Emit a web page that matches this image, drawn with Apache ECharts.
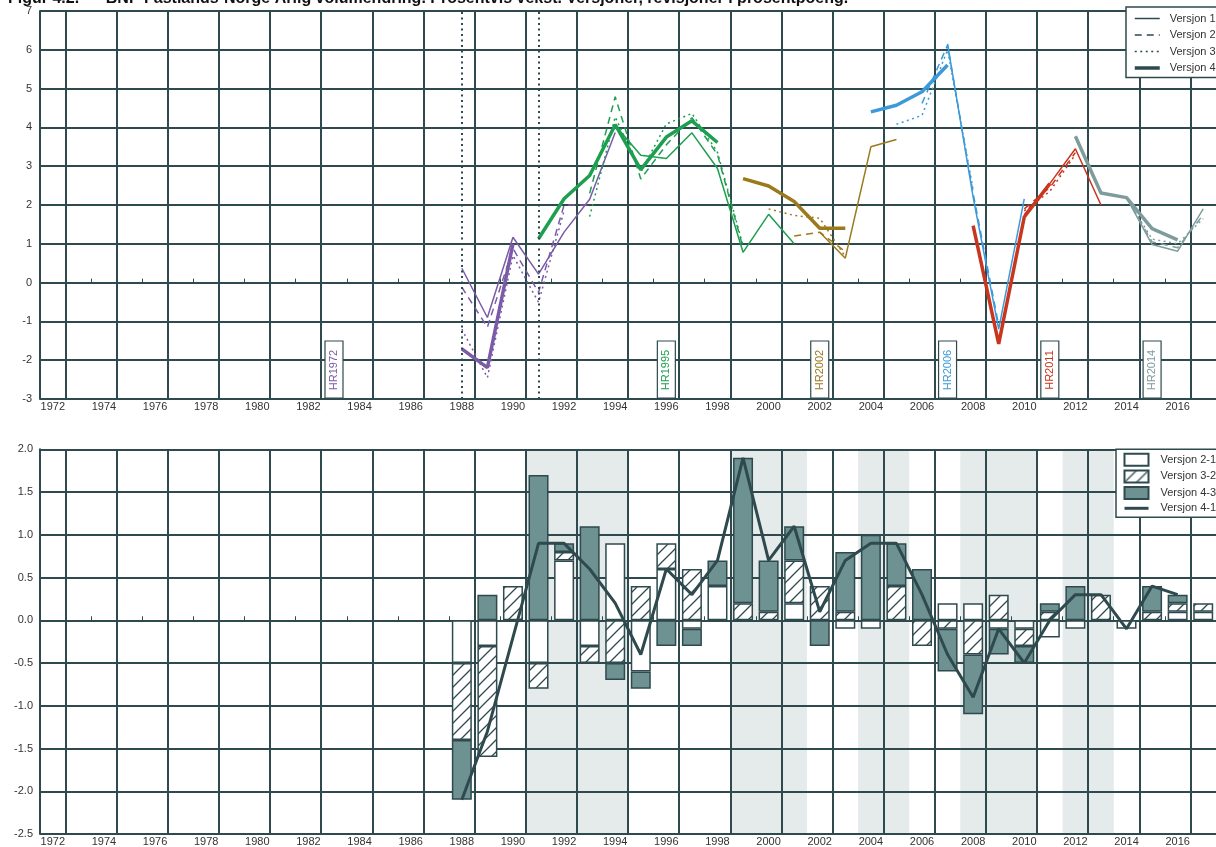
<!DOCTYPE html>
<html><head><meta charset="utf-8">
<script src="https://cdn.jsdelivr.net/npm/echarts@6/dist/echarts.min.js"></script>
<style>html,body{margin:0;padding:0;background:#fff;}#c{width:1216px;height:847px;}</style>
</head><body><div id="c"></div>
<script>
// ---------- DATA ----------
const titleText = 'Figur 4.2.      BNP Fastlands-Norge Årlig volumendring. Prosentvis vekst. Versjoner, revisjoner i prosentpoeng.';
const xLabelYears = [1972,1974,1976,1978,1980,1982,1984,1986,1988,1990,1992,1994,1996,1998,2000,2002,2004,2006,2008,2010,2012,2014,2016];
const gridYears = [1972.5,1974.5,1976.5,1978.5,1980.5,1982.5,1984.5,1986.5,1988.5,1990.5,1992.5,1994.5,1996.5,1998.5,2000.5,2002.5,2004.5,2006.5,2008.5,2010.5,2012.5,2014.5,2016.5];
const verticalMarkYears = [1988, 1991];
const versionNames = ['Versjon 1','Versjon 2','Versjon 3','Versjon 4'];

const hrNames = ['HR1972','HR1995','HR2002','HR2006','HR2011','HR2014'];
const hrLabelYears = [1983, 1996, 2002, 2007, 2011, 2015];

const hr1972Years = [1988,1989,1990,1991,1992,1993,1994];
const hr1972V1 = [0.37,-0.90,1.17,0.22,1.30,2.15,3.87];
const hr1972V2 = [-0.12,-1.15,0.88,-0.25,2.00,2.00,null];
const hr1972V3 = [-1.20,-2.45,0.70,-0.51,1.85,null,null];
const hr1972V4 = [-1.71,-2.19,1.00,null,null,null,null];

const hr1995Years = [1991,1992,1993,1994,1995,1996,1997,1998,1999,2000,2001];
const hr1995V1 = [null,null,null,4.05,3.28,3.20,3.86,2.94,0.78,1.76,1.00];
const hr1995V2 = [null,null,2.30,4.79,2.67,3.55,4.25,3.30,0.90,null,null];
const hr1995V3 = [null,null,1.70,4.27,2.85,4.09,4.36,3.36,0.95,null,null];
const hr1995V4 = [1.13,2.16,2.76,4.07,2.91,3.75,4.17,3.61,null,null,null];

const hr2002Years = [1999,2000,2001,2002,2003,2004,2005];
const hr2002V1 = [null,null,null,1.30,0.63,3.50,3.69];
const hr2002V2 = [null,null,1.20,1.30,0.80,null,null];
const hr2002V3 = [null,1.90,1.73,1.66,0.67,null,null];
const hr2002V4 = [2.68,2.49,2.09,1.40,1.40,null,null];

const hr2006Years = [2004,2005,2006,2007,2008,2009,2010];
const hr2006V1 = [null,null,null,6.15,2.20,-1.20,2.16];
const hr2006V2 = [null,null,4.62,6.12,2.30,-1.10,null];
const hr2006V3 = [null,4.08,4.31,6.00,2.40,null,null];
const hr2006V4 = [4.40,4.57,4.92,5.61,null,null,null];

const hr2011Years = [2008,2009,2010,2011,2012,2013];
const hr2011V1 = [null,null,1.75,2.55,3.45,2.00];
const hr2011V2 = [null,null,1.90,2.45,3.35,null];
const hr2011V3 = [null,null,1.85,2.35,3.30,null];
const hr2011V4 = [1.47,-1.58,1.69,2.55,null,null];

const hr2014Years = [2012,2013,2014,2015,2016,2017];
const hr2014V1 = [null,null,2.19,0.98,0.81,1.90];
const hr2014V2 = [null,null,2.19,1.05,0.90,1.75];
const hr2014V3 = [null,null,2.19,1.12,1.00,1.65];
const hr2014V4 = [3.77,2.31,2.19,1.39,1.10,null];

const revNames = ['Versjon 2-1','Versjon 3-2','Versjon 4-3','Versjon 4-1'];
const revYears = [1988,1989,1990,1991,1992,1993,1994,1995,1996,1997,1998,1999,2000,2001,2002,2003,2004,2005,2006,2007,2008,2009,2010,2011,2012,2013,2014,2015,2016,2017];
const rev21 = [-0.5,-0.3,null,-0.5,0.7,-0.3,0.9,-0.6,0.6,-0.1,0.4,null,null,0.2,null,-0.1,-0.1,null,null,0.2,0.2,-0.1,-0.1,-0.2,-0.1,null,-0.1,null,0.1,0.1];
const rev32 = [-0.9,-1.3,0.4,-0.3,0.1,-0.2,-0.5,0.4,0.3,0.6,null,0.2,0.1,0.5,0.4,0.1,null,0.4,-0.3,-0.1,-0.4,0.3,-0.2,0.1,null,0.3,null,0.1,0.1,0.1];
const rev43 = [-0.7,0.3,null,1.7,0.1,1.1,-0.2,-0.2,-0.3,-0.2,0.3,1.7,0.6,0.4,-0.3,0.7,1.0,0.5,0.6,-0.5,-0.7,-0.3,-0.2,0.1,0.4,null,null,0.3,0.1,null];
const rev41 = [-2.1,-1.3,-0.2,0.9,0.9,0.6,0.2,-0.4,0.6,0.3,0.7,1.9,0.7,1.1,0.1,0.7,0.9,0.9,0.3,-0.4,-0.9,-0.1,-0.5,0.0,0.3,0.3,-0.1,0.4,0.3,null];
const shadedBands = [[1990.5,1994.5],[1998.5,2001.5],[2003.5,2005.5],[2007.5,2010.5],[2011.5,2013.5]];

// ---------- STYLE ----------
const FONT = 'Liberation Sans';
const GRIDC = '#2e4a4e';
const hrColors = ['#7b5ba8','#1e9e4f','#9b7a1c','#3d9ad8','#c9361f','#7f9c9c'];
const vWidths = [1.5,1.5,1.5,3.5];
const vTypes = ['solid',[7,5],[2,3.5],'solid'];
const DARK = '#6e9191';

function hatchCanvas(){
  const s = 12, c = document.createElement('canvas');
  c.width = s; c.height = s;
  const g = c.getContext('2d');
  g.fillStyle = '#fff'; g.fillRect(0,0,s,s);
  g.strokeStyle = GRIDC; g.lineWidth = 1.3;
  g.beginPath();
  g.moveTo(0,s); g.lineTo(s,0);
  g.moveTo(-2,2); g.lineTo(2,-2);
  g.moveTo(s-2,s+2); g.lineTo(s+2,s-2);
  g.stroke();
  return c;
}

const hrSets = [
  {years: hr1972Years, vals:[hr1972V1,hr1972V2,hr1972V3,hr1972V4]},
  {years: hr1995Years, vals:[hr1995V1,hr1995V2,hr1995V3,hr1995V4]},
  {years: hr2002Years, vals:[hr2002V1,hr2002V2,hr2002V3,hr2002V4]},
  {years: hr2006Years, vals:[hr2006V1,hr2006V2,hr2006V3,hr2006V4]},
  {years: hr2011Years, vals:[hr2011V1,hr2011V2,hr2011V3,hr2011V4]},
  {years: hr2014Years, vals:[hr2014V1,hr2014V2,hr2014V3,hr2014V4]}
];

const X0 = 1971.5, X1 = 2017.5;
const GL = 40, GW = 46 * 25.773;
const barCategories = [];
for (let y = Math.ceil(X0); y < X1; y++) barCategories.push(String(y));

function xAxisPair(gi){
  return [{
    type:'value', gridIndex: gi, min: X0, max: X1, interval: 1, position:'bottom',
    axisLine:{show:true, lineStyle:{color:GRIDC, width:2}},
    axisTick:{show:true, inside:true, length:4, lineStyle:{color:GRIDC, width:1}},
    axisLabel:{show:true, customValues: xLabelYears, margin: 2, fontSize: 11, color:'#333', fontFamily: FONT,
      formatter: v => String(Math.round(v))},
    splitLine:{show:false}
  },{
    type:'value', gridIndex: gi, min: X0, max: X1, position:'top',
    axisLine:{show:false}, axisLabel:{show:false},
    axisTick:{show:false, customValues: gridYears},
    splitLine:{show:true, lineStyle:{color:GRIDC, width:2}}
  }];
}

const series = [];
versionNames.forEach((n,k)=>{
  series.push({type:'line', name:n, xAxisIndex:0, yAxisIndex:0, data:[], symbol:'none',
    lineStyle:{color:GRIDC, width:vWidths[k], type:vTypes[k]}, itemStyle:{color:GRIDC}});
});
hrSets.forEach((hr,h)=>{
  hr.vals.forEach((vals,k)=>{
    const s = {
      type:'line', name: hrNames[h]+' v'+(k+1), xAxisIndex:0, yAxisIndex:0,
      data: hr.years.map((y,i)=>[y, vals[i]]),
      symbol:'none', showSymbol:false, connectNulls:false, silent:true, z: k===3?3:2,
      lineStyle:{color:hrColors[h], width:vWidths[k], type:vTypes[k]},
      itemStyle:{color:hrColors[h]}
    };
    if (h===0 && k===0) {
      s.markLine = {symbol:'none', silent:true, label:{show:false}, z:4,
        lineStyle:{color:GRIDC, width:2, type:[2,3.5]},
        data: verticalMarkYears.map(x=>({xAxis:x}))};
    }
    series.push(s);
  });
});
series.push({
  type:'custom', xAxisIndex:0, yAxisIndex:0, z:6, silent:true,
  data: hrLabelYears.map(y=>[y, -3]),
  renderItem:(params, api)=>{
    const p = api.coord([api.value(0), api.value(1)]);
    const i = params.dataIndex;
    return {type:'group', children:[
      {type:'rect', shape:{x:p[0]-9, y:p[1]-58, width:18, height:57},
       style:{fill:'#fff', stroke:GRIDC, lineWidth:1.2}},
      {type:'text', x:p[0], y:p[1]-29, rotation:Math.PI/2,
       style:{text:hrNames[i], fill:hrColors[i], font:'11px "'+FONT+'"', align:'center', verticalAlign:'middle'}}
    ]};
  }
});
const revData = [rev21, rev32, rev43];
const revFill = [ '#fff', {image: hatchCanvas(), repeat:'repeat'}, DARK ];
revData.forEach((arr,k)=>{
  series.push({
    type:'bar', name: revNames[k], xAxisIndex:4, yAxisIndex:1, stack:'rev', barWidth:20,
    data: revYears.map((y,i)=>[String(y), arr[i]]), silent:true,
    itemStyle:{color: revFill[k], borderColor:GRIDC, borderWidth:1.5}
  });
});
series.push({
  type:'line', name: revNames[3], xAxisIndex:2, yAxisIndex:1, z:5, silent:true,
  data: revYears.map((y,i)=>[y, rev41[i]]), symbol:'none', connectNulls:false,
  lineStyle:{color:GRIDC, width:3}, itemStyle:{color:GRIDC},
  markArea:{silent:true, z:-1, itemStyle:{color:'#e5eaea'},
    data: shadedBands.map(b=>[{xAxis:b[0]},{xAxis:b[1]}])}
});

const option = {
  animation:false,
  backgroundColor:'#fff',
  textStyle:{fontFamily:FONT},
  title:{text:titleText, left:8, top:-9, padding:0,
    textStyle:{fontSize:16, fontWeight:'bold', color:'#111', fontFamily:FONT}},
  grid:[
    {left:GL, top:11, width:GW, height:388},
    {left:GL, top:449.3, width:GW, height:388}
  ],
  xAxis: [...xAxisPair(0), ...xAxisPair(1),
    {type:'category', gridIndex:1, data: barCategories, boundaryGap:true, show:false}],
  yAxis:[
    {type:'value', gridIndex:0, min:-3, max:7, interval:1,
     axisLine:{show:true, lineStyle:{color:GRIDC, width:2}}, axisTick:{show:false},
     axisLabel:{fontSize:11, color:'#333', margin:8, fontFamily:FONT},
     splitLine:{show:true, lineStyle:{color:GRIDC, width:2}}},
    {type:'value', gridIndex:1, min:-2.5, max:2, interval:0.5,
     axisLine:{show:true, lineStyle:{color:GRIDC, width:2}}, axisTick:{show:false},
     axisLabel:{fontSize:11, color:'#333', margin:7, fontFamily:FONT, formatter:v=>v.toFixed(1)},
     splitLine:{show:true, lineStyle:{color:GRIDC, width:2}}}
  ],
  legend:[
    {data: versionNames.map((n,k)=>({name:n, itemStyle:{opacity:0}, lineStyle:{width:vWidths[k]}})),
     orient:'vertical', left:1126, top:7,
     itemWidth:25, itemHeight:10, itemGap:5.5,
     backgroundColor:'#fff', borderColor:GRIDC, borderWidth:1.5, borderRadius:0, padding:[6,8,4,7],
     textStyle:{fontSize:11, color:'#333', fontFamily:FONT, padding:[0,0,0,5]}, selectedMode:false, z:10},
    {data: revNames.map((n,k)=> k<3 ? {name:n, icon:'rect'} : {name:n, itemStyle:{opacity:0}, lineStyle:{width:3}}),
     orient:'vertical', left:1116, top:449.3,
     itemWidth:24, itemHeight:12, itemGap:2.7,
     backgroundColor:'#fff', borderColor:GRIDC, borderWidth:1.5, borderRadius:0, padding:[3.4,8,3.4,7],
     textStyle:{fontSize:11, color:'#333', fontFamily:FONT, padding:[0,0,0,7]}, selectedMode:false, z:10}
  ],
  series
};
const chart = echarts.init(document.getElementById('c'), null, {renderer:'canvas'});
chart.setOption(option);
</script></body></html>
